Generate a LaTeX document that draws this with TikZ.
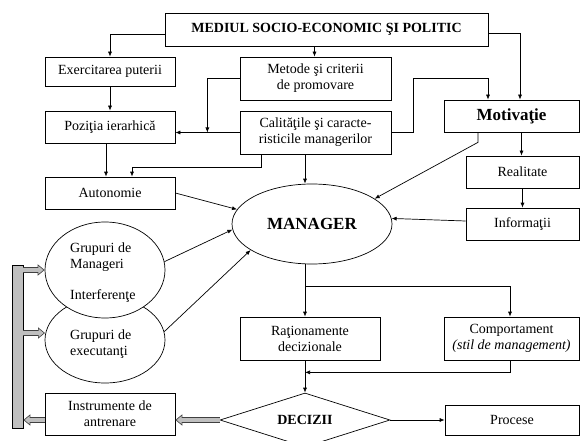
\documentclass[tikz,border=0pt]{standalone}
\usepackage{fontspec}
\setmainfont{Liberation Serif}
\usetikzlibrary{arrows.meta}
\usetikzlibrary{positioning}
\usetikzlibrary{shapes.geometric}

\begin{document}
\begin{tikzpicture}[x=1pt,y=-1pt,
  >={Latex[length=5pt,width=4pt]},
  txt/.style={font=\fontsize{14}{16}\selectfont},
  box/.style={txt, draw, line width=0.7pt, inner sep=1pt, align=center},
  bbox/.style={box, font=\bfseries\fontsize{14}{16}\selectfont},
  arr/.style={->, line width=0.7pt},
  grayarr/.style={draw=black!75, line width=5.5pt, -{Triangle[length=7pt,width=11pt]},
    postaction={draw=gray!50, line width=3.5pt, shorten >=1.3pt, -{Triangle[length=5pt,width=8pt]}}}]
  \useasboundingbox (0,0) rectangle (581,441);

  % boxes
  \node[bbox, minimum width=323pt, minimum height=33pt] (mediu) at (326.5,29.5) {MEDIUL SOCIO-ECONOMIC ŞI POLITIC};
  \node[box, minimum width=130pt, minimum height=29pt] (exer) at (110,71.5) {Exercitarea puterii};
  \node[box, minimum width=151pt, minimum height=43pt] (metode) at (315.5,78.5) {Metode şi criterii\\de promovare};
  \node[box, minimum width=130pt, minimum height=32pt] (pozitia) at (110,127) {Poziţia ierarhică};
  \node[box, minimum width=151pt, minimum height=43pt] (calit) at (315.5,132.5) {Calităţile şi caracte-\\risticile managerilor};
  \node[bbox, minimum width=135pt, minimum height=32pt, font=\bfseries\fontsize{17}{19}\selectfont] (motiv) at (511.5,116) {Motivaţie};
  \node[box, minimum width=113pt, minimum height=32pt] (realit) at (522.5,172) {Realitate};
  \node[box, minimum width=113pt, minimum height=32pt] (inform) at (522.5,224) {Informaţii};
  \node[box, minimum width=130pt, minimum height=32pt] (auton) at (110,193) {Autonomie};
  \node[box, ellipse, inner sep=0pt, minimum width=160pt, minimum height=80pt,
    font=\bfseries\fontsize{17}{19}\selectfont] (manager) at (312,224) {MANAGER};

  % groups (lower one first, upper one covers it)
  \node[draw, ellipse, line width=0.7pt, minimum width=120pt, minimum height=86pt] (grexe) at (105,340) {};
  \node[draw, fill=white, ellipse, line width=0.7pt, minimum width=120pt, minimum height=96pt] (grman) at (105,270) {};
  \node[txt, anchor=west, align=left, inner sep=0pt] (grmant) at (70,257.5) {Grupuri de\\Manageri};
  \node[txt, anchor=west, inner sep=0pt] (interf) at (70,296) {Interferenţe};
  \node[txt, anchor=west, align=left, inner sep=0pt] (grexet) at (70,344) {Grupuri de\\executanţi};

  \node[box, minimum width=140pt, minimum height=43pt] (ration) at (310,338.5) {Raţionamente\\decizionale};
  \node[box, minimum width=135pt, minimum height=43pt] (compor) at (511.5,338.5) {Comportament\\\textit{(stil de management)}};
  \node[bbox, diamond, aspect=3, inner sep=0pt, minimum width=170pt, minimum height=54pt] (decizii) at (305,420) {DECIZII};
  \node[box, minimum width=134pt, minimum height=30pt] (procese) at (512,420) {Procese};
  \node[box, minimum width=130pt, minimum height=42pt] (instr) at (110,414) {Instrumente de\\antrenare};
  \node[draw, fill=gray!50, line width=0.7pt, minimum width=11pt, minimum height=163pt, inner sep=0pt] (bara) at (17.5,346.5) {};

  % connectors
  \draw[arr] ([yshift=-5pt]mediu.west) -| (exer.north);
  \draw[arr] ([xshift=-12pt]mediu.south) -- ([xshift=-12pt]mediu.south |- metode.north);
  \draw[arr] ([yshift=-4pt]mediu.east) -| ([xshift=8.5pt]motiv.north);
  \draw[arr] (exer.south) -- (pozitia.north);
  \draw[arr] (calit.west) -- (calit.west -| pozitia.east);
  \draw[arr] (metode.west) -| ([xshift=32pt]pozitia.east |- calit.west);
  \draw[arr] (calit.east) -| (413,78) -| ([xshift=-23.5pt]motiv.north);
  \draw[arr] ([xshift=-4pt]pozitia.south) -- ([xshift=-4pt]auton.north);
  \draw[arr] ([xshift=-54.5pt]calit.south) -- ++(0,13) -| ([xshift=22pt]auton.north);
  \draw[arr] ([xshift=-10.5pt]calit.south) -- ([xshift=-7pt]manager.north);
  \draw[arr] (auton.east) -- (manager.169);
  \draw[arr] ([xshift=-33.5pt]motiv.south) -- ++(0,10) -- (manager.22);
  \draw[arr] ([xshift=10pt]motiv.south) -- ([xshift=10pt]motiv.south |- realit.north);
  \draw[arr] (realit.south) -- (inform.north);
  \draw[arr] ([yshift=3pt]inform.west) -- (manager.4);
  \draw[arr] (grman.8) -- (manager.184);
  \draw[arr] (grexe.8) -- (manager.203);
  \draw[arr] ([xshift=-7pt]manager.south) -- ([xshift=-7pt]manager.south |- ration.north);
  \draw[arr] ([xshift=-7pt]manager.south) ++(0,22) -| ([xshift=-1.5pt]compor.north);
  \draw[arr] (decizii.north |- ration.south) -- (decizii.north);
  \draw[arr] ([xshift=-1.5pt]compor.south) |- ([yshift=-12pt]ration.south -| decizii.north);
  \draw[arr] (decizii.east) -- (procese.west);

  % gray arrows
  \draw[grayarr] (decizii.west) -- (decizii.west -| instr.east);
  \draw[grayarr] (instr.west |- decizii.west) -- (bara.east |- decizii.west);
  \draw[grayarr] (bara.east |- grman.west) -- (grman.west);
  \draw[grayarr] (bara.east |- 0,333) -- (45,333);
\end{tikzpicture}
\end{document}
